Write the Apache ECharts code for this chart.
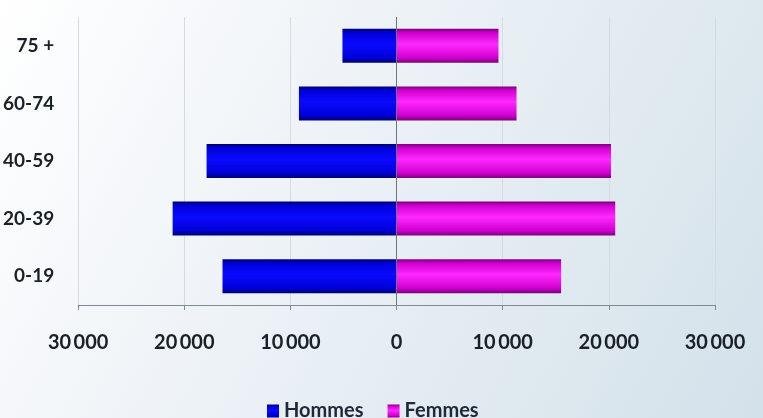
<!DOCTYPE html>
<html>
<head>
<meta charset="utf-8">
<script src="https://cdn.jsdelivr.net/npm/echarts@6/dist/echarts.min.js"></script>
<style>
  html, body { margin: 0; padding: 0; }
  #chart { width: 763px; height: 418px; }
</style>
</head>
<body>
<div id="chart"></div>
<script>
// tranches d'âge (bas -> haut)
const categories = ['0-19', '20-39', '40-59', '60-74', '75 +'];
const hommes = [16400, 21100, 17900, 9200, 5100];
const femmes = [15500, 20600, 20200, 11300, 9600];
const ticks = [-30000, 30000, 10000]; // min, max, interval

const fmt = (v) => {
  const a = Math.abs(v);
  if (a < 1000) return String(a);
  return Math.floor(a / 1000) + '\u2009' + String(a % 1000).padStart(3, '0');
};

const grad = (c) => new echarts.graphic.LinearGradient(0, 0, 0, 1, [
  { offset: 0, color: c[0] },
  { offset: 0.12, color: c[1] },
  { offset: 0.45, color: c[2] },
  { offset: 0.85, color: c[1] },
  { offset: 1, color: c[0] }
]);

const chart = echarts.init(document.getElementById('chart'));
const font = 'Lato, "Open Sans", sans-serif';

chart.setOption({
  animation: false,
  backgroundColor: new echarts.graphic.LinearGradient(0, 0, 1, 1, [
    { offset: 0, color: '#ffffff' },
    { offset: 0.35, color: '#f0f4f8' },
    { offset: 1, color: '#d3e1ea' }
  ]),
  textStyle: { fontFamily: font },
  grid: { left: 78, right: 48, top: 17, bottom: 113 },
  legend: {
    top: 396,
    left: 262,
    itemWidth: 12,
    itemHeight: 13,
    itemGap: 24,
    icon: 'rect',
    textStyle: { fontSize: 20, fontWeight: 'bold', color: '#1e2a3a', fontFamily: font },
    data: ['Hommes', 'Femmes']
  },
  xAxis: {
    type: 'value',
    min: ticks[0],
    max: ticks[1],
    interval: ticks[2],
    axisLine: { show: true, lineStyle: { color: '#7f8a94' } },
    axisTick: { show: true, length: 5, lineStyle: { color: '#7f8a94' } },
    axisLabel: {
      formatter: fmt,
      margin: 28,
      fontSize: 20,
      fontWeight: 'bold',
      color: '#1a2028'
    },
    splitLine: { show: true, lineStyle: { color: '#d6dbe0' } }
  },
  yAxis: {
    type: 'category',
    data: categories,
    axisLine: { show: false, onZero: false },
    axisTick: { show: false },
    axisLabel: {
      margin: 24,
      fontSize: 19,
      fontWeight: 'bold',
      color: '#1a2028'
    }
  },
  series: [
    {
      name: 'Hommes',
      type: 'bar',
      barWidth: 34,
      barGap: '-100%',
      data: hommes.map((v) => -v),
      itemStyle: { color: grad(['#00006e', '#0000d8', '#0a0aff']) }
    },
    {
      name: 'Femmes',
      type: 'bar',
      barWidth: 34,
      data: femmes,
      itemStyle: { color: grad(['#7a007a', '#d000d0', '#ff28ff']) },
      markLine: {
        silent: true,
        symbol: 'none',
        label: { show: false },
        lineStyle: { color: '#6e757c', type: 'solid', width: 1 },
        data: [{ xAxis: 0 }]
      }
    }
  ]
});
</script>
</body>
</html>
